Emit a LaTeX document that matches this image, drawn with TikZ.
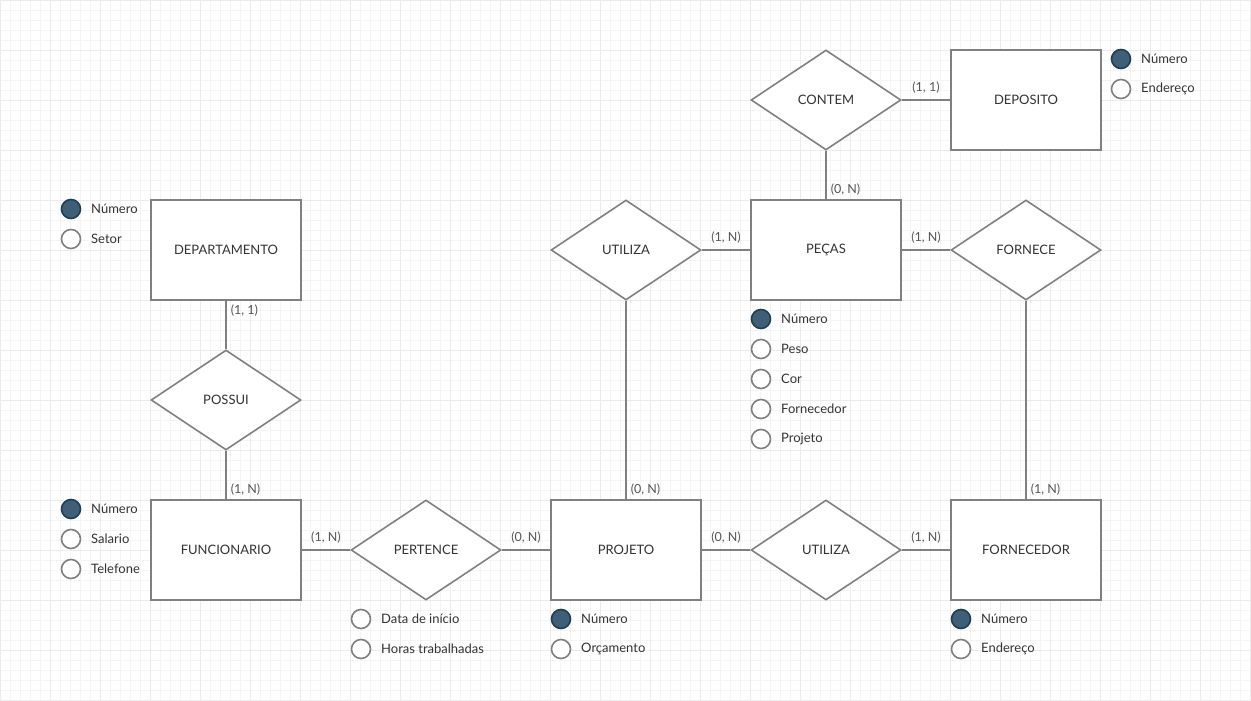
\documentclass[tikz,border=0pt]{standalone}
\usepackage{fontspec}
\setmainfont{Lato}
\usetikzlibrary{shapes.geometric}
\definecolor{linec}{HTML}{808080}
\definecolor{txtc}{HTML}{333333}
\definecolor{lblc}{HTML}{555555}
\definecolor{keyfill}{HTML}{3F5F77}
\definecolor{keydraw}{HTML}{1F3F57}
\definecolor{gridmin}{HTML}{F4F4F4}
\definecolor{gridmaj}{HTML}{EBEBEB}
\tikzset{
  entity/.style={draw=linec, line width=1.6pt, fill=white, minimum width=150pt, minimum height=100pt, inner sep=0pt, font=\fontsize{13}{15}\selectfont, text=txtc},
  relation/.style={draw=linec, line width=1.6pt, fill=white, diamond, aspect=1.5, minimum width=150pt, minimum height=100pt, inner sep=0pt, font=\fontsize{13}{15}\selectfont, text=txtc},
  keyattr/.style={circle, draw=keydraw, line width=1.6pt, fill=keyfill, minimum size=19pt, inner sep=0pt},
  plainattr/.style={circle, draw=linec, line width=1.6pt, fill=white, minimum size=19pt, inner sep=0pt},
  attrtext/.style={anchor=west, font=\fontsize{13}{15}\selectfont, text=txtc, inner sep=0pt},
  conn/.style={draw=linec, line width=1.6pt},
  card/.style={font=\fontsize{12.5}{14}\selectfont, text=lblc, inner sep=0pt}
}
\begin{document}
\begin{tikzpicture}[x=1pt,y=-1pt]
\useasboundingbox (0,0) rectangle (1251,701);
\fill[white] (0,0) rectangle (1251,701);
\foreach \i in {0,10,...,1250} { \draw[gridmin, line width=1pt] (\i+0.5,0) -- (\i+0.5,701); }
\foreach \j in {0,10,...,700} { \draw[gridmin, line width=1pt] (0,\j+0.5) -- (1251,\j+0.5); }
\foreach \i in {0,50,...,1250} { \draw[gridmaj, line width=1pt] (\i+0.5,0) -- (\i+0.5,701); }
\foreach \j in {0,50,...,700} { \draw[gridmaj, line width=1pt] (0,\j+0.5) -- (1251,\j+0.5); }

% entities
\node[entity] (deposito) at (1026,100) {DEPOSITO};
\node[entity] (depto) at (226,250) {DEPARTAMENTO};
\node[entity] (pecas) at (826,250) {PEÇAS};
\node[entity] (func) at (226,550) {FUNCIONARIO};
\node[entity] (projeto) at (626,550) {PROJETO};
\node[entity] (forn) at (1026,550) {FORNECEDOR};

% relationships
\node[relation] (contem) at (826,100) {CONTEM};
\node[relation] (utilizaA) at (626,250) {UTILIZA};
\node[relation] (fornece) at (1026,250) {FORNECE};
\node[relation] (possui) at (226,400) {POSSUI};
\node[relation] (pertence) at (426,550) {PERTENCE};
\node[relation] (utilizaB) at (826,550) {UTILIZA};

% connectors
\draw[conn] (contem.east) -- (deposito.west) node[card, pos=0.5, above=6pt] {(1, 1)};
\draw[conn] (contem.south) -- (pecas.north) node[card, pos=1, anchor=south west, xshift=4pt, yshift=3pt] {(0, N)};
\draw[conn] (utilizaA.east) -- (pecas.west) node[card, pos=0.5, above=6pt] {(1, N)};
\draw[conn] (pecas.east) -- (fornece.west) node[card, pos=0.5, above=6pt] {(1, N)};
\draw[conn] (fornece.south) -- (forn.north) node[card, pos=1, anchor=south west, xshift=4pt, yshift=3pt] {(1, N)};
\draw[conn] (utilizaA.south) -- (projeto.north) node[card, pos=1, anchor=south west, xshift=4pt, yshift=3pt] {(0, N)};
\draw[conn] (depto.south) -- (possui.north) node[card, pos=0, anchor=north west, xshift=4pt, yshift=-3pt] {(1, 1)};
\draw[conn] (possui.south) -- (func.north) node[card, pos=1, anchor=south west, xshift=4pt, yshift=3pt] {(1, N)};
\draw[conn] (func.east) -- (pertence.west) node[card, pos=0.5, above=6pt] {(1, N)};
\draw[conn] (pertence.east) -- (projeto.west) node[card, pos=0.5, above=6pt] {(0, N)};
\draw[conn] (projeto.east) -- (utilizaB.west) node[card, pos=0.5, above=6pt] {(0, N)};
\draw[conn] (utilizaB.east) -- (forn.west) node[card, pos=0.5, above=6pt] {(1, N)};

% attributes
\node[keyattr] (depos1) at (1121,59) {};
\node[attrtext] (depos1t) at (1141,59) {Número};
\node[plainattr] (depos2) at (1121,89) {};
\node[attrtext] (depos2t) at (1141,89) {Endereço};

\node[keyattr] (dep1) at (71,209) {};
\node[attrtext] (dep1t) at (91,209) {Número};
\node[plainattr] (dep2) at (71,239) {};
\node[attrtext] (dep2t) at (91,239) {Setor};

\node[keyattr] (pec1) at (761,319) {};
\node[attrtext] (pec1t) at (781,319) {Número};
\node[plainattr] (pec2) at (761,349) {};
\node[attrtext] (pec2t) at (781,349) {Peso};
\node[plainattr] (pec3) at (761,379) {};
\node[attrtext] (pec3t) at (781,379) {Cor};
\node[plainattr] (pec4) at (761,409) {};
\node[attrtext] (pec4t) at (781,409) {Fornecedor};
\node[plainattr] (pec5) at (761,439) {};
\node[attrtext] (pec5t) at (781,439) {Projeto};

\node[keyattr] (fun1) at (71,509) {};
\node[attrtext] (fun1t) at (91,509) {Número};
\node[plainattr] (fun2) at (71,539) {};
\node[attrtext] (fun2t) at (91,539) {Salario};
\node[plainattr] (fun3) at (71,569) {};
\node[attrtext] (fun3t) at (91,569) {Telefone};

\node[plainattr] (per1) at (361,619) {};
\node[attrtext] (per1t) at (381,619) {Data de início};
\node[plainattr] (per2) at (361,649) {};
\node[attrtext] (per2t) at (381,649) {Horas trabalhadas};

\node[keyattr] (pro1) at (561,619) {};
\node[attrtext] (pro1t) at (581,619) {Número};
\node[plainattr] (pro2) at (561,649) {};
\node[attrtext] (pro2t) at (581,649) {Orçamento};

\node[keyattr] (fo1) at (961,619) {};
\node[attrtext] (fo1t) at (981,619) {Número};
\node[plainattr] (fo2) at (961,649) {};
\node[attrtext] (fo2t) at (981,649) {Endereço};
\end{tikzpicture}
\end{document}
